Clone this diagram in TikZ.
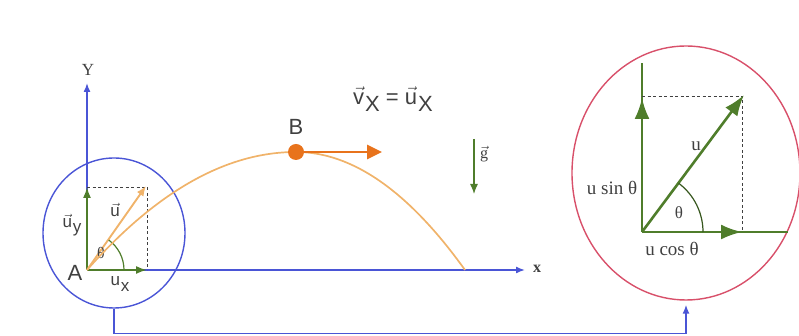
\documentclass[tikz,border=0pt]{standalone}
\usepackage{fontspec}
\usepackage{amsmath}
\usetikzlibrary{arrows.meta,shapes.geometric,calc}
\newfontfamily\sansfont{Liberation Sans}
\newfontfamily\seriffont{Liberation Serif}
\definecolor{azul}{HTML}{4A55D6}
\definecolor{verde}{HTML}{4F7D2B}
\definecolor{naranja}{HTML}{E8731C}
\definecolor{trayec}{HTML}{F0B36A}
\definecolor{rojo}{HTML}{D8506A}
\definecolor{texto}{HTML}{404040}
\newcommand{\flecha}[1]{$\vec{\hbox{#1}}$}
\newcommand{\bajo}[1]{\kern1pt\raisebox{-0.3em}{#1}}
\tikzset{
  eje/.style={azul, line width=1.5pt, -{Latex[length=9pt,width=7pt]}},
  vecverde/.style={verde, line width=1.7pt, -{Latex[length=11pt,width=8pt]}},
  vecgrande/.style={verde, line width=2.6pt, -{Latex[length=21pt,width=15pt]}},
  punteado/.style={texto, line width=0.9pt, dash pattern=on 3pt off 2.5pt},
  etiq/.style={text=texto, inner sep=0pt},
}
\begin{document}
\begin{tikzpicture}[x=1pt,y=1pt]
    \useasboundingbox (0,0) rectangle (799,336);
    % Puntos principales
    \coordinate (A) at (87,66);
    \coordinate (B) at (296,184);
    \coordinate (C) at (465,66);
    \coordinate (Ytip) at (87,253);
    \coordinate (Xtip) at (525,66);
    \coordinate (uy) at (87,149);
    \coordinate (ux) at (147,66);
    \coordinate (ucorner) at (147,149);
    \coordinate (utip) at (146,150);

    % Ejes
    \draw[eje] (A) -- (Ytip);
    \draw[eje] (A) -- (Xtip);
    \node[etiq, font=\seriffont\fontsize{17}{19}\selectfont] (Y) at (88,266) {Y};
    \node[etiq, font=\seriffont\bfseries\fontsize{16}{18}\selectfont] (X) at (537,67) {x};

    % Circulo en A
    \node (circA) [draw=azul, line width=1.4pt, ellipse, minimum width=142pt, minimum height=150pt] at (114,103) {};

    % Componentes de u en A
    \draw[punteado] (uy) -- (ucorner) -- (ux);
    \draw[vecverde] (A) -- (uy);
    \draw[vecverde] (A) -- (ux);
    \draw[trayec, line width=1.9pt, -{Latex[length=10pt,width=8pt]}] (A) -- (utip);
    \draw[verde, line width=1.2pt] ($(A)+(37,0)$) arc (0:54:37);
    \node[etiq, font=\seriffont\fontsize{16}{18}\selectfont] (thA) at (101,83) {θ};
    \node[etiq, font=\sansfont\fontsize{17}{19}\selectfont] (uvec) at (115,126) {\flecha{u}};
    \node[etiq, font=\sansfont\fontsize{17}{19}\selectfont] (uyl) at (72,111) {\flecha{u}\bajo{y}};
    \node[etiq, font=\sansfont\fontsize{17}{19}\selectfont] (uxl) at (120,52) {u\bajo{x}};
    \node[etiq, font=\sansfont\fontsize{22}{24}\selectfont] (Al) at (75,63) {A};

    % Trayectoria
    \draw[trayec, line width=1.7pt] (A) .. controls (156.67,144.67) and (226.33,184) .. (B)
        .. controls (352.33,184) and (408.67,144.67) .. (C);
    \draw[naranja, line width=2.8pt, -{Triangle[length=15pt,width=14pt]}] (B) -- (382,184);
    \fill[naranja] (B) circle (8);
    \node[etiq, font=\sansfont\fontsize{22}{24}\selectfont] (Bl) at (296,209) {B};
    \node[etiq, font=\sansfont\fontsize{22}{24}\selectfont] (vx) at (393,237)
        {\flecha{v}\bajo{X} = \flecha{u}\bajo{X}};

    % Gravedad
    \draw[verde, line width=1.2pt, -{Latex[length=10pt,width=8pt]}] (474,197) -- (474,142);
    \node[etiq, font=\seriffont\fontsize{16}{18}\selectfont] (g) at (484,182) {\flecha{g}};

    % Circulo de descomposicion
    \node (circB) [draw=rojo, line width=1.4pt, ellipse, minimum width=228pt, minimum height=254pt] at (686,163) {};
    \coordinate (O) at (642,104);
    \coordinate (Otop) at (642,273);
    \coordinate (Oright) at (788,104);
    \coordinate (usin) at (642,238);
    \coordinate (ucos) at (742,104);
    \coordinate (uend) at (744,241);
    \draw[verde, line width=2.6pt] (O) -- (Otop);
    \draw[verde, line width=2.6pt] (O) -- (Oright);
    \draw[punteado] (642,240) -- (742,240) -- (ucos);
    \draw[vecgrande] (O) -- (usin);
    \draw[vecgrande] (O) -- (ucos);
    \draw[vecgrande] (O) -- (uend);
    \draw[verde!70!black, line width=1.2pt] ($(O)+(61,0)$) arc (0:53:61);
    \node[etiq, font=\seriffont\fontsize{19}{21}\selectfont] (ul) at (696,190) {u};
    \node[etiq, font=\seriffont\fontsize{17}{19}\selectfont] (thB) at (679,123) {θ};
    \node[etiq, font=\seriffont\fontsize{19}{21}\selectfont] (usl) at (612,148) {u sin θ};
    \node[etiq, font=\seriffont\fontsize{19}{21}\selectfont] (ucl) at (672,87) {u cos θ};

    % Conector entre circulos
    \draw[azul, line width=1.5pt, -{Latex[length=9pt,width=7pt]}] (circA.south) -- ++(0,-25) -| ([yshift=-4pt]circB.south);
\end{tikzpicture}
\end{document}
